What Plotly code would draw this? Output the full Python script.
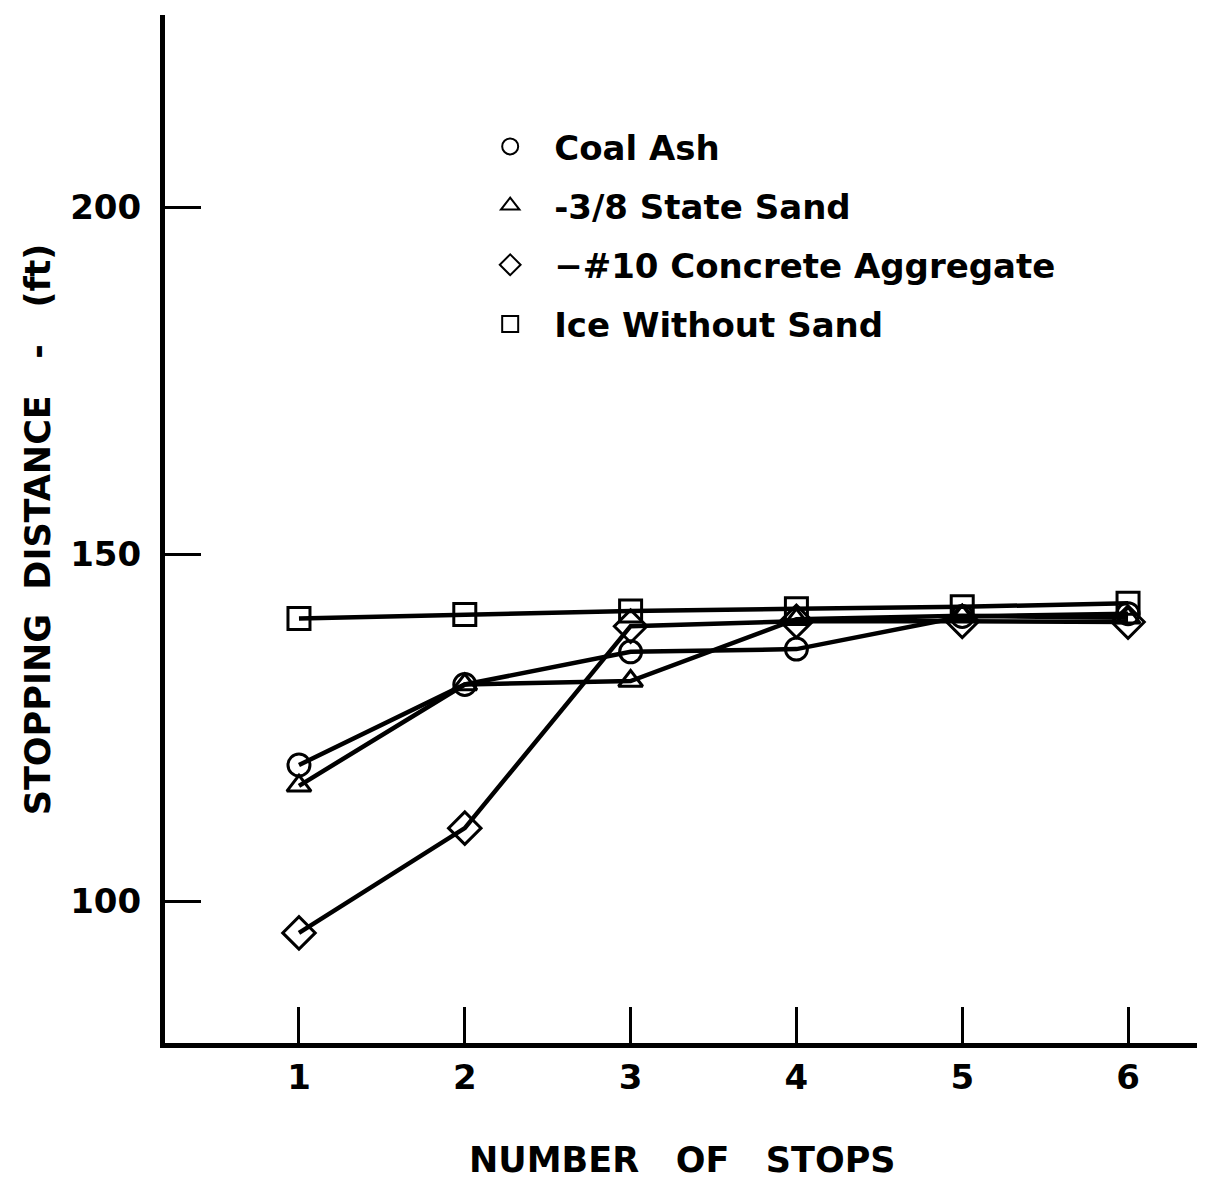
import plotly.graph_objects as go

stops = [1, 2, 3, 4, 5, 6]
coal_ash = [119.6, 131.2, 135.9, 136.3, 141.0, 141.4]
state_sand = [116.6, 131.2, 131.7, 140.6, 141.1, 140.8]
concrete_agg = [95.4, 110.5, 139.6, 140.3, 140.3, 140.2]
ice_no_sand = [140.7, 141.3, 141.8, 142.1, 142.4, 142.9]

series_names = ["Coal Ash", "-3/8 State Sand", "\u2212#10 Concrete Aggregate", "Ice Without Sand"]
series_values = [coal_ash, state_sand, concrete_agg, ice_no_sand]
symbols = ["circle-open", "triangle-up-open", "diamond-open", "square-open"]
sizes = [22, 21, 25, 22]

y_ticks = [100, 150, 200]
x_ticks = [1, 2, 3, 4, 5, 6]

FONT = "DejaVu Sans"
SP = "\u00a0\u00a0\u00a0"
SP2 = "\u00a0\u00a0"

fig = go.Figure()

for name, vals, sym, sz in zip(series_names, series_values, symbols, sizes):
    fig.add_trace(go.Scatter(
        x=stops, y=vals, mode="lines+markers",
        line=dict(color="black", width=4.5),
        marker=dict(symbol=sym, size=sz, color="black", line=dict(color="black", width=3)),
        showlegend=False, cliponaxis=False,
    ))

for i, (name, sym) in enumerate(zip(series_names, symbols)):
    fig.add_trace(go.Scatter(
        x=[None], y=[None], mode="markers", name=name,
        legendgroup="g%d" % i,
        marker=dict(symbol=sym, size=19, color="black", line=dict(color="black", width=2)),
        showlegend=True,
    ))

fig.update_layout(
    width=1197, height=1172,
    margin=dict(l=157, r=5, t=7, b=137),
    paper_bgcolor="white", plot_bgcolor="white",
    font=dict(family=FONT, color="black", size=30, weight="bold"),
    showlegend=True,
    legend=dict(
        x=0.291, y=0.900, xanchor="left", yanchor="top",
        font=dict(family=FONT, size=34, color="black", weight="bold"),
        bgcolor="rgba(0,0,0,0)", borderwidth=0,
        tracegroupgap=12, itemwidth=78, traceorder="grouped",
    ),
    xaxis=dict(
        range=[0.192, 6.434], tickmode="array", tickvals=x_ticks,
        ticktext=[str(t) for t in x_ticks],
        showline=True, linewidth=5, linecolor="black",
        ticks="inside", ticklen=36, tickwidth=3, tickcolor="black",
        showgrid=False, zeroline=False,
        tickfont=dict(family=FONT, size=34, weight="bold"),
        ticklabelstandoff=0,
    ),
    yaxis=dict(
        range=[79.54, 227.67], tickmode="array", tickvals=y_ticks,
        ticktext=[str(t) for t in y_ticks],
        showline=True, linewidth=5, linecolor="black",
        ticks="inside", ticklen=36, tickwidth=3, tickcolor="black",
        showgrid=False, zeroline=False,
        tickfont=dict(family=FONT, size=34, weight="bold"),
        ticklabelstandoff=12,
    ),
    annotations=[
        dict(text="NUMBER" + SP + "OF" + SP + "STOPS", xref="paper", yref="paper",
             x=0.5, y=-0.1138, xanchor="center", yanchor="middle", showarrow=False,
             font=dict(family=FONT, size=35, weight="bold")),
        dict(text="STOPPING" + SP2 + "DISTANCE" + SP + "-" + SP + "(ft)", xref="paper", yref="paper",
             x=-0.1225, y=0.5, xanchor="center", yanchor="middle", textangle=-90,
             showarrow=False, font=dict(family=FONT, size=35, weight="bold")),
    ],
)

fig.write_html("out.html")
